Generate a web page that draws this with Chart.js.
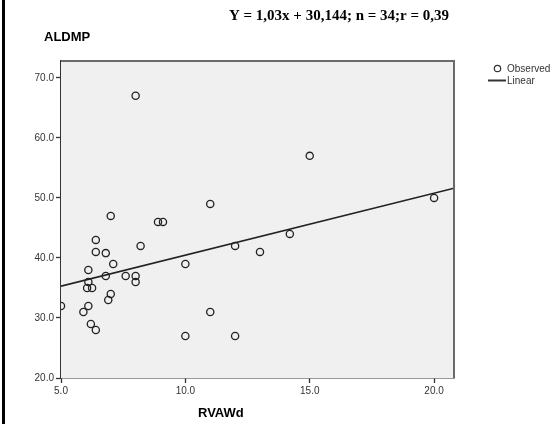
<!DOCTYPE html>
<html>
<head>
<meta charset="utf-8">
<script src="https://cdn.jsdelivr.net/npm/chart.js@4/dist/chart.umd.min.js"></script>
<style>
  html, body { margin: 0; padding: 0; background: #fff; }
  #wrap { position: relative; width: 551px; height: 424px; }
  #leftBar { position: absolute; left: 2px; top: 0; width: 3px; height: 424px; background: #000; }
  canvas { position: absolute; left: 0; top: 0; }
</style>
</head>
<body>
<div id="wrap">
  <canvas id="scatterChart" width="551" height="424"></canvas>
  <div id="leftBar"></div>
</div>
<script>
// observed points (RVAWd, ALDMP)
const rvawd = [8.0, 11.0, 7.0, 8.9, 9.1, 6.4, 8.2, 12.0, 6.4, 6.8, 13.0, 15.0, 20.0, 14.2,
               10.0, 6.1, 7.1, 6.8, 7.6, 8.0, 8.0, 6.1, 6.05, 6.25, 7.0, 6.9, 5.0, 6.1,
               5.9, 11.0, 6.2, 6.4, 10.0, 12.0];
const aldmp = [67, 49, 47, 46, 46, 43, 42, 42, 41, 40.8, 41, 57, 50, 44,
               39, 38, 39, 37, 37, 37, 36, 36, 35, 35, 34, 33, 32, 32,
               31, 31, 29, 28, 27, 27];

// fitted line end points
const fitX = [5.0, 20.8];
const fitY = [35.3, 51.6];

const xTicks = [5, 10, 15, 20];
const yTicks = [20, 30, 40, 50, 60, 70];

const titleText = 'Y = 1,03x + 30,144; n = 34;r = 0,39';

const observed = rvawd.map((x, i) => ({ x: x, y: aldmp[i] }));
const linear = fitX.map((x, i) => ({ x: x, y: fitY[i] }));

const decorPlugin = {
    id: 'decor',
    beforeDatasetsDraw(chart) {
        const a = chart.chartArea;
        const c = chart.ctx;
        c.save();
        c.fillStyle = '#f0f0f0';
        c.fillRect(a.left, a.top, a.right - a.left, a.bottom - a.top);
        c.restore();
    },
    afterDraw(chart) {
        const a = chart.chartArea;
        const c = chart.ctx;
        c.save();
        // top & right frame
        c.strokeStyle = '#6a6a6a';
        c.lineWidth = 2;
        c.beginPath();
        c.moveTo(a.left, a.top);
        c.lineTo(a.right, a.top);
        c.lineTo(a.right, a.bottom);
        c.stroke();

        c.fillStyle = '#000';
        c.textBaseline = 'alphabetic';
        c.font = 'bold 15px "Liberation Serif", "Times New Roman", serif';
        c.textAlign = 'center';
        c.fillText(titleText, 339, 20);

        c.textAlign = 'left';
        c.font = 'bold 13px "Liberation Sans", Arial, sans-serif';
        c.fillText('ALDMP', 44, 41);
        c.fillText('RVAWd', 198, 417);

        // legend
        c.strokeStyle = '#333';
        c.lineWidth = 1.2;
        c.beginPath();
        c.arc(497.5, 68.5, 3.2, 0, Math.PI * 2);
        c.stroke();
        c.lineWidth = 2;
        c.beginPath();
        c.moveTo(488, 80.5);
        c.lineTo(506, 80.5);
        c.stroke();
        c.fillStyle = '#333';
        c.font = '10px "Liberation Sans", Arial, sans-serif';
        c.textBaseline = 'middle';
        c.fillText('Observed', 507, 69);
        c.fillText('Linear', 507, 81.5);
        c.restore();
    }
};

const ctx = document.getElementById('scatterChart').getContext('2d');
const chart = new Chart(ctx, {
    type: 'scatter',
    data: {
        datasets: [
            {
                label: 'Observed',
                data: observed,
                pointStyle: 'circle',
                pointRadius: 3.6,
                pointBorderWidth: 1.3,
                borderColor: '#222',
                backgroundColor: 'rgba(0,0,0,0)',
                pointHoverRadius: 3.6,
                clip: { left: 0, top: 6, right: 6, bottom: 6 }
            },
            {
                type: 'line',
                label: 'Linear',
                data: linear,
                borderColor: '#222',
                borderWidth: 1.6,
                pointRadius: 0,
                fill: false
            }
        ]
    },
    options: {
        responsive: false,
        animation: false,
        layout: { padding: { top: 61, right: 97, left: 0, bottom: 0 } },
        plugins: { legend: { display: false }, tooltip: { enabled: false } },
        scales: {
            x: {
                type: 'linear',
                min: 5,
                max: 20.8,
                afterFit: s => { s.height = 46; },
                afterBuildTicks: s => { s.ticks = xTicks.map(v => ({ value: v })); },
                ticks: {
                    callback: v => v.toFixed(1),
                    color: '#333',
                    font: { family: '"Liberation Sans", Arial, sans-serif', size: 10 },
                    padding: 2,
                    maxRotation: 0
                },
                grid: { drawOnChartArea: false, tickLength: 5, color: '#333', tickWidth: 1.3 },
                border: { color: '#333', width: 1.5 }
            },
            y: {
                type: 'linear',
                min: 20,
                max: 72.8,
                afterFit: s => { s.width = 61; },
                afterBuildTicks: s => { s.ticks = yTicks.map(v => ({ value: v })); },
                ticks: {
                    callback: v => v.toFixed(1),
                    color: '#333',
                    font: { family: '"Liberation Sans", Arial, sans-serif', size: 10 },
                    padding: 2
                },
                grid: { drawOnChartArea: false, tickLength: 5, color: '#333', tickWidth: 1.3 },
                border: { color: '#333', width: 1.5 }
            }
        }
    },
    plugins: [decorPlugin]
});
</script>
</body>
</html>
